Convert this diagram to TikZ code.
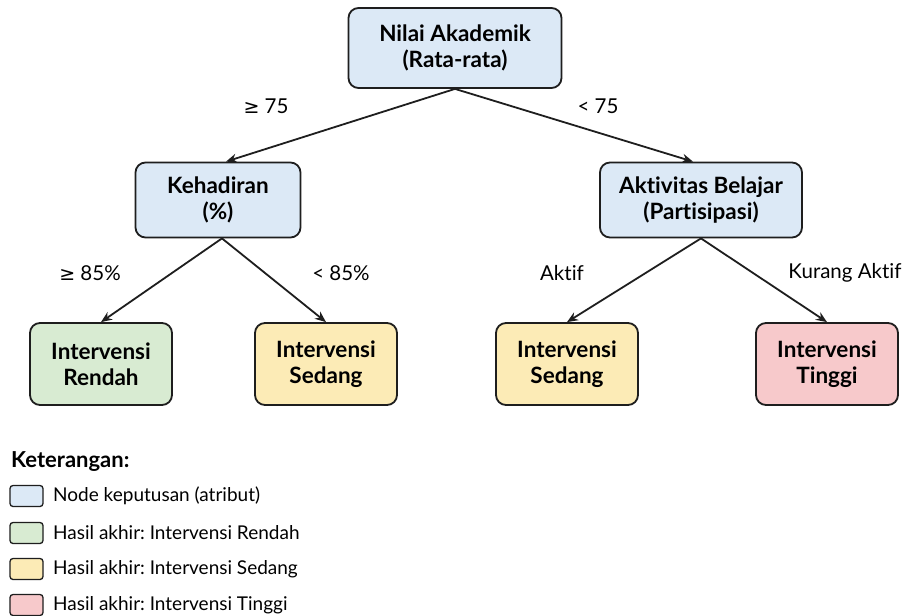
\documentclass[tikz,border=0pt]{standalone}
\usepackage{fontspec}
\setmainfont[Ligatures=CommonOff]{Lato}
\newfontfamily\symfont{DejaVu Sans}
\usetikzlibrary{arrows.meta}
\frenchspacing
\definecolor{cblue}{HTML}{DCE9F6}
\definecolor{cgreen}{HTML}{D8EBD2}
\definecolor{cyellow}{HTML}{FCEBB6}
\definecolor{cred}{HTML}{F7C9CB}
\definecolor{cline}{HTML}{1E1E1E}
\newcommand{\gesym}{{\symfont\fontsize{19}{20}\selectfont ≥}}
\tikzset{
  box/.style={draw=cline, line width=1.8pt, rounded corners=10pt, align=center,
    font=\fontsize{22.5}{26}\selectfont\bfseries, text=black, inner sep=0pt},
  dec/.style={box, fill=cblue, minimum height=75pt},
  leaf/.style={box, minimum width=142pt, minimum height=82pt},
  arr/.style={draw=cline, line width=1.8pt, -{Stealth[length=11pt,width=9pt]}},
  elab/.style={font=\fontsize{20.5}{24}\selectfont, text=black, inner sep=0pt},
  legbox/.style={draw=cline, line width=1.3pt, rounded corners=3pt, minimum width=33pt, minimum height=21pt, inner sep=0pt},
  legtxt/.style={font=\fontsize{19}{22}\selectfont, anchor=west, inner sep=0pt, text=black}
}
\begin{document}
\begin{tikzpicture}[x=1pt,y=-1pt]
\fill[white] (0,0) rectangle (906,616);
\useasboundingbox (0,0) rectangle (906,616);

\node[box, fill=cblue, minimum width=213pt, minimum height=80pt] (root) at (455,48) {Nilai Akademik\\(Rata-rata)};
\node[dec, minimum width=165pt] (keh) at (218,200) {Kehadiran\\(\%)};
\node[dec, minimum width=202pt] (akt) at (701,200) {Aktivitas Belajar\\(Partisipasi)};

\node[leaf, fill=cgreen] (rendah) at (101,364) {Intervensi\\Rendah};
\node[leaf, fill=cyellow] (sedang1) at (326,364) {Intervensi\\Sedang};
\node[leaf, fill=cyellow] (sedang2) at (567,364) {Intervensi\\Sedang};
\node[leaf, fill=cred] (tinggi) at (827,364) {Intervensi\\Tinggi};

\draw[arr] (root.south) -- ([xshift=8pt]keh.north);
\draw[arr] (root.south) -- ([xshift=-8pt]akt.north);
\draw[arr] ([xshift=4pt]keh.south) -- (rendah.north);
\draw[arr] ([xshift=4pt]keh.south) -- (sedang1.north);
\draw[arr] (akt.south) -- (sedang2.north);
\draw[arr] (akt.south) -- (tinggi.north);

\node[elab] (l1) at (266,106) {\gesym{} 75};
\node[elab] (l2) at (598,106) {< 75};
\node[elab] (l3) at (90,273) {\gesym{} 85\%};
\node[elab] (l4) at (341,273) {< 85\%};
\node[elab] (l5) at (562,273) {Aktif};
\node[elab] (l6) at (845,273) {Kurang Aktif};

\node[font=\fontsize{22}{26}\selectfont\bfseries, anchor=west, inner sep=0pt] (ket) at (11,462) {Keterangan:};
\node[legbox, fill=cblue] (k1) at (26.5,496) {};
\node[legbox, fill=cgreen] (k2) at (26.5,533) {};
\node[legbox, fill=cyellow] (k3) at (26.5,569) {};
\node[legbox, fill=cred] (k4) at (26.5,605) {};
\node[legtxt] (t1) at (53,496) {Node keputusan (atribut)};
\node[legtxt] (t2) at (53,533) {Hasil akhir: Intervensi Rendah};
\node[legtxt] (t3) at (53,569) {Hasil akhir: Intervensi Sedang};
\node[legtxt] (t4) at (53,605) {Hasil akhir: Intervensi Tinggi};
\end{tikzpicture}
\end{document}
